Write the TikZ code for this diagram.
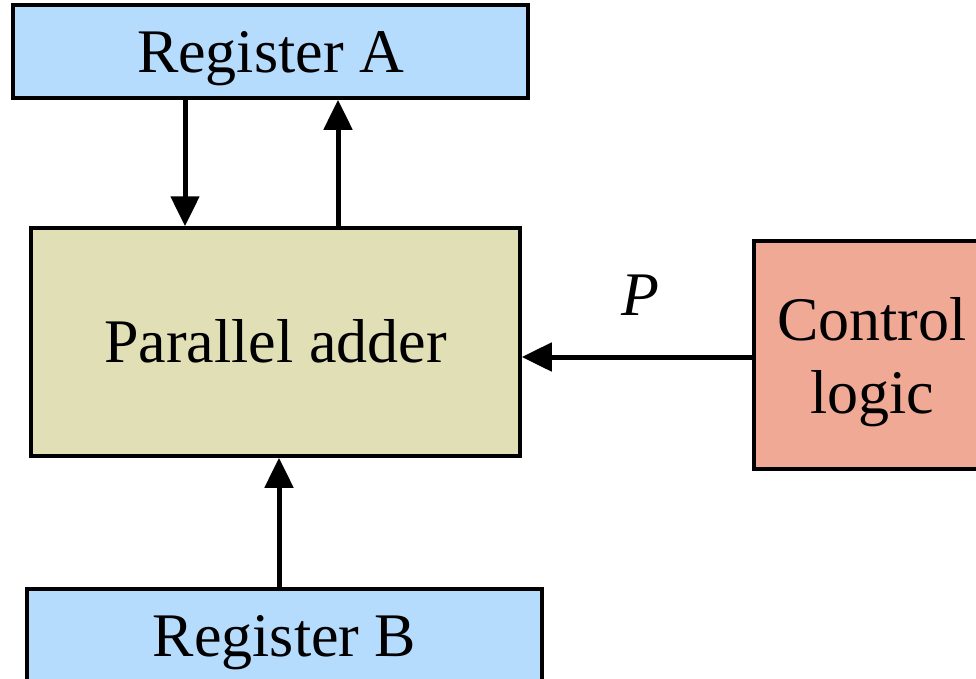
\documentclass[tikz,border=0pt]{standalone}
\usepackage{fontspec}
\setmainfont{Liberation Serif}
\usetikzlibrary{arrows.meta}
\definecolor{regblue}{RGB}{181,219,253}
\definecolor{addertan}{RGB}{225,223,182}
\definecolor{ctrlred}{RGB}{240,169,149}
\tikzset{
  blockbox/.style={draw=black, line width=3.5pt, rectangle, inner sep=0pt,
    align=center, font=\fontsize{62}{73}\selectfont},
  capcentred/.style={text height=41pt, text depth=#1},
  capcentred/.default=0pt,
  arr/.style={line width=5pt, -{Triangle[length=30pt,width=28pt]}},
}
\begin{document}
\begin{tikzpicture}[x=1pt, y=-1pt]
  \useasboundingbox (0,0) rectangle (976,678);
  \clip (0,0) rectangle (976,678);
  % registers, adder and control block
  \node[blockbox, capcentred=-7pt, fill=regblue, minimum width=515pt, minimum height=93pt]
    (regA) at (270.5,51.5) {Register A};
  \node[blockbox, capcentred=-5pt, fill=addertan, minimum width=489pt, minimum height=228pt]
    (adder) at (275.5,342) {Parallel adder};
  \node[blockbox, text depth=0pt, fill=ctrlred, minimum width=236pt, minimum height=228pt]
    (ctrl) at (872,355) {Control\\logic};
  \node[blockbox, capcentred, fill=regblue, minimum width=515pt, minimum height=93pt]
    (regB) at (284.5,635.5) {Register B};
  % data paths
  \draw[arr] ([xshift=-85.5pt]regA.south) -- ([xshift=-85.5pt]regA.south |- adder.north);
  \draw[arr] ([xshift=67.5pt]regA.south |- adder.north) -- ([xshift=67.5pt]regA.south);
  \draw[arr] ([xshift=-5.5pt]regB.north) -- ([xshift=-5.5pt]regB.north |- adder.south);
  \draw[arr] ([yshift=-2pt]ctrl.west) -- ([yshift=-2pt]ctrl.west -| adder.east);
  % control signal label
  \node[font=\fontsize{62}{73}\selectfont\itshape, inner sep=0pt] (plabel) at (640,295) {P};
\end{tikzpicture}
\end{document}
